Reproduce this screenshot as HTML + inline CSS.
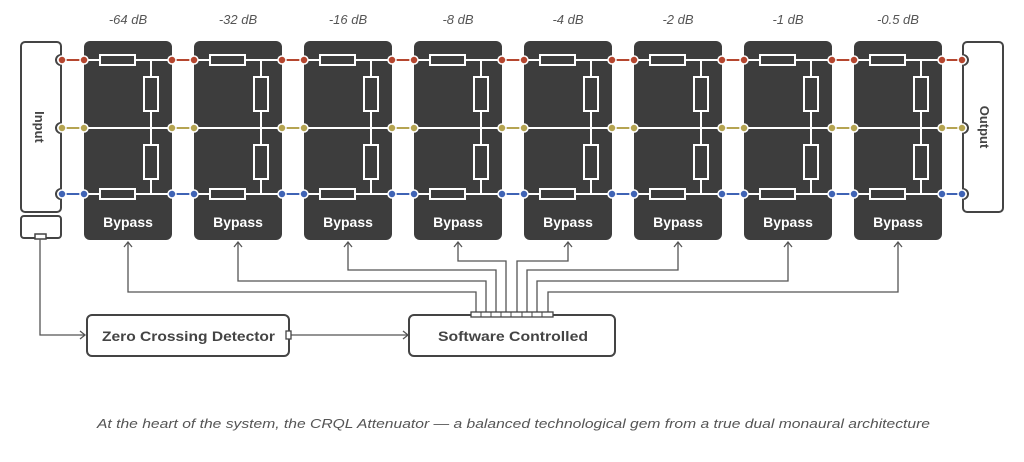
<!DOCTYPE html>
<html><head><style>
body{margin:0;background:#fff;width:1024px;height:457px;overflow:hidden}
text{font-family:"Liberation Sans",sans-serif}
</style></head><body>
<svg width="1024" height="457" viewBox="0 0 1024 457" xmlns="http://www.w3.org/2000/svg">
<g fill="#555" font-style="italic" font-size="13" text-anchor="middle">
<text x="128" y="24">-64 dB</text><text x="238" y="24">-32 dB</text><text x="348" y="24">-16 dB</text><text x="458" y="24">-8 dB</text><text x="568" y="24">-4 dB</text><text x="678" y="24">-2 dB</text><text x="788" y="24">-1 dB</text><text x="898" y="24">-0.5 dB</text>
</g>
<path d="M25 42 H57 a4 4 0 0 1 4 4 V55 a5 5 0 0 0 0 10 V123 a5 5 0 0 0 0 10 V189 a5 5 0 0 0 0 10 V208 a4 4 0 0 1 -4 4 H25 a4 4 0 0 1 -4 -4 V46 a4 4 0 0 1 4 -4Z" fill="#fff" stroke="#444" stroke-width="2"/>
<rect x="21" y="216" width="40" height="22" rx="3" fill="#fff" stroke="#444" stroke-width="2"/>
<rect x="35" y="234" width="11" height="5" fill="#fff" stroke="#444" stroke-width="1.5"/>
<text transform="translate(35 127) rotate(90)" text-anchor="middle" font-size="13" font-weight="bold" fill="#444">Input</text>
<path d="M967 42 H999 a4 4 0 0 1 4 4 V208 a4 4 0 0 1 -4 4 H967 a4 4 0 0 1 -4 -4 V199 a5 5 0 0 0 0 -10 V133 a5 5 0 0 0 0 -10 V65 a5 5 0 0 0 0 -10 V46 a4 4 0 0 1 4 -4Z" fill="#fff" stroke="#444" stroke-width="2"/>
<text transform="translate(980 127) rotate(90)" text-anchor="middle" font-size="13" font-weight="bold" fill="#444">Output</text>
<g id="boxes"></g>
<g fill="none" stroke="#555" stroke-width="1.3">
<path d="M128 242 V292 H476 V313"/><path d="M238 242 V281 H486 V313"/><path d="M348 242 V270 H496 V313"/><path d="M458 242 V261 H506 V313"/>
<path d="M568 242 V261 H517 V313"/><path d="M678 242 V270 H527 V313"/><path d="M788 242 V281 H537 V313"/><path d="M898 242 V292 H548 V313"/>
<path d="M40 239 V335 H84"/><path d="M290 335 H407"/>
</g>
<g fill="none" stroke="#555" stroke-width="1.3">
<path d="M124 247 l4 -5 l4 5"/><path d="M234 247 l4 -5 l4 5"/><path d="M344 247 l4 -5 l4 5"/><path d="M454 247 l4 -5 l4 5"/><path d="M564 247 l4 -5 l4 5"/><path d="M674 247 l4 -5 l4 5"/><path d="M784 247 l4 -5 l4 5"/><path d="M894 247 l4 -5 l4 5"/>
<path d="M80 331 l5 4 l-5 4"/><path d="M403 331 l5 4 l-5 4"/>
</g>
<rect x="87" y="315" width="202" height="41" rx="5" fill="#fff" stroke="#444" stroke-width="2"/>
<rect x="286" y="331" width="5" height="8" fill="#fff" stroke="#444" stroke-width="1.3"/>
<text x="102" y="341" textLength="173" lengthAdjust="spacingAndGlyphs" font-size="14" font-weight="bold" fill="#444">Zero Crossing Detector</text>
<rect x="409" y="315" width="206" height="41" rx="5" fill="#fff" stroke="#444" stroke-width="2"/>
<rect x="471" y="312" width="82" height="5" fill="#fff" stroke="#444" stroke-width="1.3"/>
<g stroke="#444" stroke-width="1"><path d="M481 312v5M491 312v5M501 312v5M511 312v5M522 312v5M532 312v5M542 312v5"/></g>
<text x="438" y="341" textLength="150" lengthAdjust="spacingAndGlyphs" font-size="14" font-weight="bold" fill="#444">Software Controlled</text>
<text x="97" y="428" textLength="833" lengthAdjust="spacingAndGlyphs" font-size="13" font-style="italic" fill="#555">At the heart of the system, the CRQL Attenuator — a balanced technological gem from a true dual monaural architecture</text>
</svg>
<script>
const g=document.getElementById('boxes');let s='';
const col=[['#b5462f',60],['#b5a451',128],['#3f63b5',194]];
for(let i=0;i<8;i++){const x=84+i*110;
s+=`<rect x="${x}" y="41" width="88" height="199" rx="6" fill="#3d3d3d"/>`;
s+=`<g stroke="#fff" stroke-width="2" fill="#3d3d3d">`;
s+=`<line x1="${x}" y1="60" x2="${x+88}" y2="60"/><line x1="${x}" y1="128" x2="${x+88}" y2="128"/><line x1="${x}" y1="194" x2="${x+88}" y2="194"/><line x1="${x+67}" y1="60" x2="${x+67}" y2="194"/>`;
s+=`<rect x="${x+16}" y="55" width="35" height="10"/><rect x="${x+16}" y="189" width="35" height="10"/><rect x="${x+60}" y="77" width="14" height="34"/><rect x="${x+60}" y="145" width="14" height="34"/></g>`;
s+=`<text x="${x+44}" y="227" text-anchor="middle" font-size="14" font-weight="bold" fill="#fff">Bypass</text>`;}
const xs=[[62,84]];for(let i=0;i<7;i++)xs.push([172+i*110,194+i*110]);xs.push([942,962]);
for(const [a,b] of xs)for(const [c,y] of col){
s+=`<line x1="${a}" y1="${y}" x2="${b}" y2="${y}" stroke="${c}" stroke-width="2"/>`;
s+=`<circle cx="${a}" cy="${y}" r="4" fill="${c}" stroke="#fff" stroke-width="1.5"/><circle cx="${b}" cy="${y}" r="4" fill="${c}" stroke="#fff" stroke-width="1.5"/>`;}
g.innerHTML=s;
</script>
</body></html>
